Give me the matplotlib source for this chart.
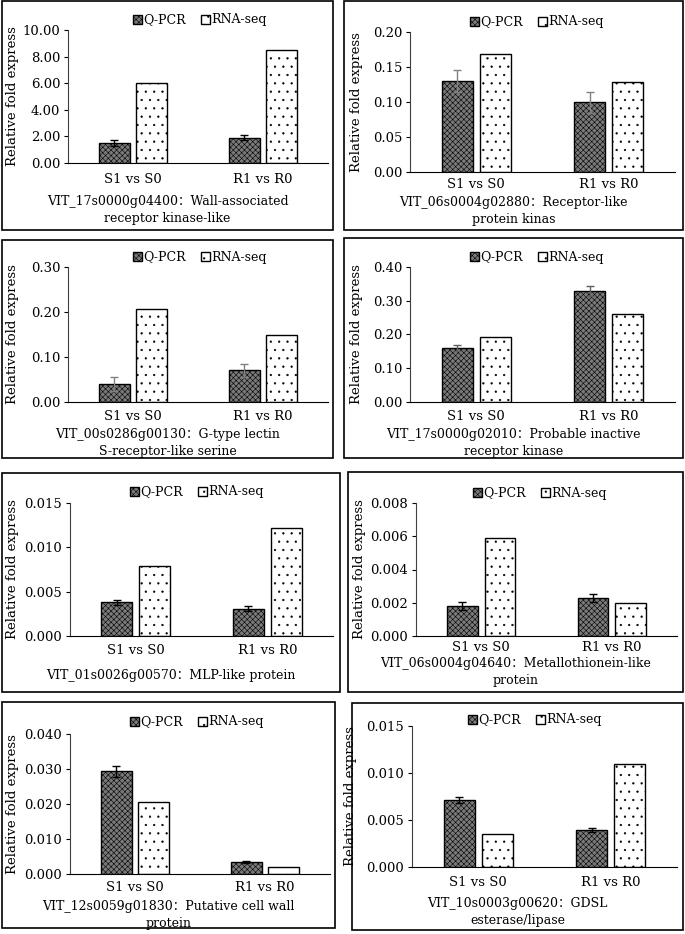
import matplotlib
matplotlib.use("Agg")
import matplotlib.pyplot as plt
from matplotlib.patches import Rectangle, Patch
from matplotlib.ticker import FormatStrFormatter, MultipleLocator

plt.rcParams['font.family'] = ['DejaVu Serif', 'Noto Sans CJK SC']
plt.rcParams['font.size'] = 9.5
plt.rcParams['hatch.linewidth'] = 0.4

categories = ["S1 vs S0", "R1 vs R0"]
series_names = ["Q-PCR", "RNA-seq"]

genes = [
    "VIT_17s0000g04400：Wall-associated\nreceptor kinase-like",
    "VIT_06s0004g02880：Receptor-like\nprotein kinas",
    "VIT_00s0286g00130：G-type lectin\nS-receptor-like serine",
    "VIT_17s0000g02010：Probable inactive\nreceptor kinase",
    "VIT_01s0026g00570：MLP-like protein",
    "VIT_06s0004g04640：Metallothionein-like\nprotein",
    "VIT_12s0059g01830：Putative cell wall\nprotein",
    "VIT_10s0003g00620：GDSL\nesterase/lipase",
]

qpcr = [
    [1.50, 1.90],
    [0.130, 0.100],
    [0.040, 0.070],
    [0.160, 0.330],
    [0.0038, 0.0031],
    [0.0018, 0.0023],
    [0.0293, 0.0034],
    [0.0071, 0.0039],
]
qpcr_err = [
    [0.20, 0.20],
    [0.015, 0.015],
    [0.015, 0.015],
    [0.008, 0.015],
    [0.0003, 0.0003],
    [0.00025, 0.00025],
    [0.0015, 0.0002],
    [0.0003, 0.0002],
]
rnaseq = [
    [6.00, 8.50],
    [0.168, 0.128],
    [0.207, 0.149],
    [0.192, 0.261],
    [0.0079, 0.0122],
    [0.0059, 0.0020],
    [0.0206, 0.0021],
    [0.0035, 0.0110],
]
y_max = [10.0, 0.20, 0.30, 0.40, 0.015, 0.008, 0.040, 0.015]
y_step = [2.0, 0.05, 0.10, 0.10, 0.005, 0.002, 0.010, 0.005]
y_fmt = ['%.2f', '%.2f', '%.2f', '%.2f', '%.3f', '%.3f', '%.3f', '%.3f']

# layout in pixels: box (l, t, r, b), axes (l, top, r, base), legend center,
# category label y, gene label y, right edge of y-label
layout = [
    dict(box=(2, 1, 333, 230), ax=(68, 30, 328, 163), leg=(200, 20), cat=180, gene=210, ylab=19, ecol='black'),
    dict(box=(344, 1, 683, 230), ax=(410, 32, 675, 172), leg=(537, 22), cat=185, gene=211, ylab=363, ecol='#808080'),
    dict(box=(2, 240, 333, 458), ax=(68, 267, 328, 402), leg=(200, 257), cat=417, gene=443, ylab=19, ecol='#808080'),
    dict(box=(344, 238, 683, 458), ax=(410, 267, 675, 402), leg=(537, 257), cat=417, gene=443, ylab=363, ecol='#606060'),
    dict(box=(2, 473, 340, 692), ax=(70, 503, 333, 636), leg=(197, 492), cat=651, gene=675, ylab=19, ecol='black'),
    dict(box=(348, 472, 683, 692), ax=(416, 503, 677, 636), leg=(540, 493), cat=648, gene=672, ylab=366, ecol='black'),
    dict(box=(2, 702, 335, 928), ax=(70, 734, 330, 874), leg=(197, 722), cat=888, gene=915, ylab=19, ecol='black'),
    dict(box=(352, 703, 683, 930), ax=(412, 726, 677, 867), leg=(535, 720), cat=883, gene=912, ylab=357, ecol='black'),
]

W, H = 685, 934
fig = plt.figure(figsize=(W / 100, H / 100), dpi=100)

q_style = dict(facecolor='#7a7a7a', edgecolor='black', hatch='xxxxxx', linewidth=1.0)
r_style = dict(facecolor='white', edgecolor='black', hatch='..', linewidth=1.0)

width = 0.235
off = 0.144
xs = [0.5, 1.5]

for i, lay in enumerate(layout):
    bl, bt, br, bb = lay['box']
    fig.patches.append(Rectangle((bl / W, 1 - bb / H), (br - bl) / W, (bb - bt) / H,
                                 transform=fig.transFigure, fill=False,
                                 edgecolor='black', linewidth=1.2))
    al, at, ar, ab = lay['ax']
    ax = fig.add_axes([al / W, 1 - ab / H, (ar - al) / W, (ab - at) / H])
    ax.bar([x - off for x in xs], qpcr[i], width, yerr=qpcr_err[i],
           error_kw=dict(ecolor=lay['ecol'], elinewidth=1.0, capsize=3, capthick=1.0),
           **q_style)
    ax.bar([x + off for x in xs], rnaseq[i], width, **r_style)
    ax.set_xlim(0, 2)
    ax.set_ylim(0, y_max[i])
    ax.yaxis.set_major_locator(MultipleLocator(y_step[i]))
    ax.yaxis.set_major_formatter(FormatStrFormatter(y_fmt[i]))
    ax.set_xticks(xs)
    ax.set_xticklabels(categories)
    ax.tick_params(axis='x', length=0, pad=(lay['cat'] - ab) * 0.72 - 5)
    ax.tick_params(axis='y', direction='out', length=3, pad=2.5)
    for s in ['top', 'right']:
        ax.spines[s].set_visible(False)
    ax.spines['left'].set_color('#404040')
    ax.set_ylabel("Relative fold express")
    ax.yaxis.set_label_coords(lay['ylab'] / W, 1 - (at + ab) / 2 / H, transform=fig.transFigure)
    handles = [Patch(**q_style), Patch(**r_style)]
    ax.legend(handles, series_names, loc='center', ncol=2,
              bbox_to_anchor=(lay['leg'][0] / W, 1 - lay['leg'][1] / H),
              bbox_transform=fig.transFigure, frameon=False, fontsize=9,
              handlelength=0.7, handleheight=0.7, handletextpad=0.1,
              columnspacing=1.2, borderpad=0)
    fig.text((bl + br) / 2 / W, 1 - lay['gene'] / H, genes[i], ha='center', va='center',
             fontsize=9, linespacing=1.45)

fig.savefig("out.png", dpi=100)
